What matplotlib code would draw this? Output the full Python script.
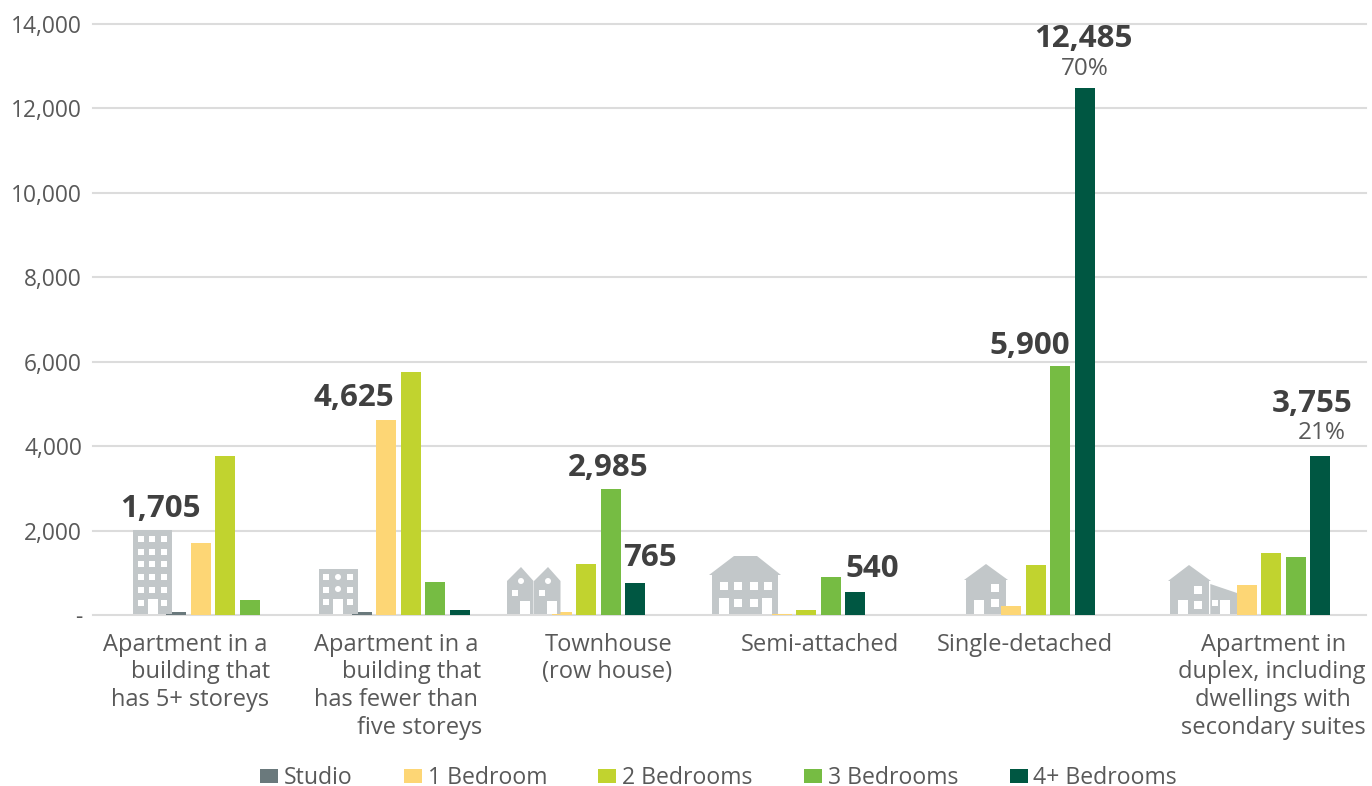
import matplotlib
matplotlib.use("Agg")
import matplotlib.pyplot as plt
from matplotlib.patches import Rectangle, Polygon, Circle
from matplotlib.transforms import Affine2D
from matplotlib.ticker import FuncFormatter

series_names = ["Studio", "1 Bedroom", "2 Bedrooms", "3 Bedrooms", "4+ Bedrooms"]
studio = [60, 80, 0, 0, 0, 0]
one_bed = [1705, 4625, 60, 30, 225, 700]
two_bed = [3760, 5750, 1200, 130, 1175, 1460]
three_bed = [345, 770, 2985, 890, 5900, 1365]
four_bed = [0, 130, 765, 540, 12485, 3755]
y_ticks = [0, 2000, 4000, 6000, 8000, 10000, 12000, 14000]

colors = ["#6a797c", "#fdd675", "#c1d32f", "#76bc43", "#005742"]
ICON = "#c2c7c9"
TEXT = "#595959"
DARK = "#404040"
GRID = "#dcdcdc"
FONT = ["Open Sans", "DejaVu Sans"]
W, H = 1372, 786

plt.rcParams["font.family"] = FONT
fig = plt.figure(figsize=(W / 100, H / 100), dpi=100, facecolor="white")
L, R, T, B = 93, 1366, 24, 615
ax = fig.add_axes([L / W, 1 - B / H, (R - L) / W, (B - T) / H])
ax.set_xlim(L, R)
ax.set_ylim(0, 14000)
px = Affine2D().scale(1, -1).translate(0, H)  # top-left pixel layout space

# horizontal layout of the six (unevenly spaced) groups
group_x = [225, 410.5, 586, 806, 1035.5, 1271]
pitch, bar_w = 24.5, 20
all_series = [studio, one_bed, two_bed, three_bed, four_bed]
handles = []
for i, (vals, c, name) in enumerate(zip(all_series, colors, series_names)):
    xs = [g + (i - 2) * pitch for g in group_x]
    b = ax.bar(xs, vals, width=bar_w, color=c, label=name, zorder=3, linewidth=0)
    handles.append(b)

ax.set_yticks(y_ticks)
ax.yaxis.set_major_formatter(FuncFormatter(lambda v, _: "-" if v == 0 else f"{int(v):,}"))
ax.tick_params(axis="y", length=0, pad=8, labelsize=16.4, labelcolor=TEXT)
ax.tick_params(axis="x", length=0, labelbottom=False)
ax.yaxis.grid(True, color=GRID, lw=1.5, zorder=0, clip_on=False)
ax.set_axisbelow(True)
for s in ax.spines.values():
    s.set_visible(False)


def add_icon(kind_parts, z):
    for part in kind_parts:
        ax.add_patch(part)
        part.set_transform(px)
        part.set_zorder(z)
        part.set_clip_on(False)
        part.set_linewidth(0)


def rect(x0, y0, x1, y1, c=ICON):
    return Rectangle((x0, y0), x1 - x0, y1 - y0, facecolor=c)


def circ(x, y, r=3):
    return Circle((x, y), r, facecolor="white")


def poly(pts):
    return Polygon(pts, closed=True, facecolor=ICON)


def win(x0, y0, w, h):
    return rect(x0, y0, x0 + w, y0 + h, "white")


# tall apartment building
parts = [rect(133, 530, 172, 614)]
for y in [536, 549, 561, 574, 587, 600]:
    for x in [138, 149, 161]:
        if not (y == 600 and x == 149):
            parts.append(win(x, y, 6, 6))
parts.append(win(148, 599, 10, 15))
add_icon(parts, 4)

# low-rise apartment building
parts = [rect(319, 569, 358, 614)]
for y in [574, 587, 599]:
    parts += [win(323, y, 6, 6), win(347, y, 6, 6)]
parts += [circ(338, 577), circ(338, 589), win(333, 599, 10, 15)]
add_icon(parts, 4)

# townhouses
parts = []
for dx in [0, 27]:
    parts += [poly([(507 + dx, 581), (521 + dx, 567), (533.5 + dx, 581), (533.5 + dx, 614), (507 + dx, 614)]),
              circ(521 + dx, 581), win(512 + dx, 590, 6, 6), win(520 + dx, 601, 10, 13)]
add_icon(parts, 4)

# semi-attached
parts = [poly([(709, 575), (734, 556), (757, 556), (781, 575), (778, 575), (778, 614), (712, 614), (712, 575)])]
for x in [720, 734, 750, 764]:
    parts.append(win(x, 582, 8, 8))
for x in [734, 750]:
    parts.append(win(x, 599, 8, 8))
parts += [win(719, 598, 10, 16), win(762, 598, 10, 16)]
add_icon(parts, 2.5)

# single-detached
parts = [poly([(964, 580), (986, 564), (1008, 580), (1006, 580), (1006, 614), (966, 614), (966, 580)]),
         win(991, 584, 8, 8), win(991, 599, 8, 8), win(974, 600, 10, 14)]
add_icon(parts, 2.5)

# duplex with suite
parts = [poly([(1168, 581), (1189, 565), (1211, 581), (1209, 581), (1209, 614), (1170, 614), (1170, 581)]),
         win(1194, 586, 8, 8), win(1194, 601, 8, 8), win(1178, 600, 10, 14),
         poly([(1210.3, 584), (1240, 594), (1240, 614), (1210.3, 614)]),
         win(1212, 600, 6, 6), win(1220, 600, 10, 14)]
add_icon(parts, 2.5)

# category labels, one positioned text per line (centre x, baseline y)
line_y = [651, 678.5, 706, 733.5]
category_lines = [
    [("Apartment in a", 185), ("building that", 200.5), ("has 5+ storeys", 190)],
    [("Apartment in a", 396), ("building that", 411.5), ("has fewer than", 396), ("five storeys", 420)],
    [("Townhouse", 609), ("(row house)", 607)],
    [("Semi-attached", 820)],
    [("Single-detached", 1025)],
    [("Apartment in", 1273.5), ("duplex, including", 1272), ("dwellings with", 1273), ("secondary suites", 1273)],
]
for lines in category_lines:
    for (txt, x), y in zip(lines, line_y):
        ax.text(x, y, txt, transform=px, ha="center", va="baseline", fontsize=17,
                color=TEXT, clip_on=False)

# bold data labels: (value, centre x, baseline y)
value_labels = [(one_bed[0], 160, 517), (one_bed[1], 354, 406), (three_bed[2], 608, 476),
                (four_bed[2], 650, 566), (four_bed[3], 872, 577), (three_bed[4], 1030, 354),
                (four_bed[4], 1083, 47), (four_bed[5], 1312, 412)]
for v, x, y in value_labels:
    ax.text(x, y, f"{v:,}", transform=px, ha="center", va="baseline", fontsize=22.5,
            fontweight="bold", color=DARK, clip_on=False, zorder=6)
for t, x, y in [("70%", 1085, 75), ("21%", 1322, 439)]:
    ax.text(x, y, t, transform=px, ha="center", va="baseline", fontsize=17.5,
            color=TEXT, clip_on=False, zorder=6)

leg = fig.legend(handles, series_names, ncol=5, loc="center",
                 bbox_to_anchor=(718.5 / W, 1 - 778 / H), frameon=False, fontsize=16.6,
                 labelcolor=TEXT, handlelength=0.78, handleheight=0.6, handletextpad=0.26,
                 columnspacing=2.22, borderpad=0, borderaxespad=0)

fig.savefig("out.png", dpi=100, facecolor="white")
